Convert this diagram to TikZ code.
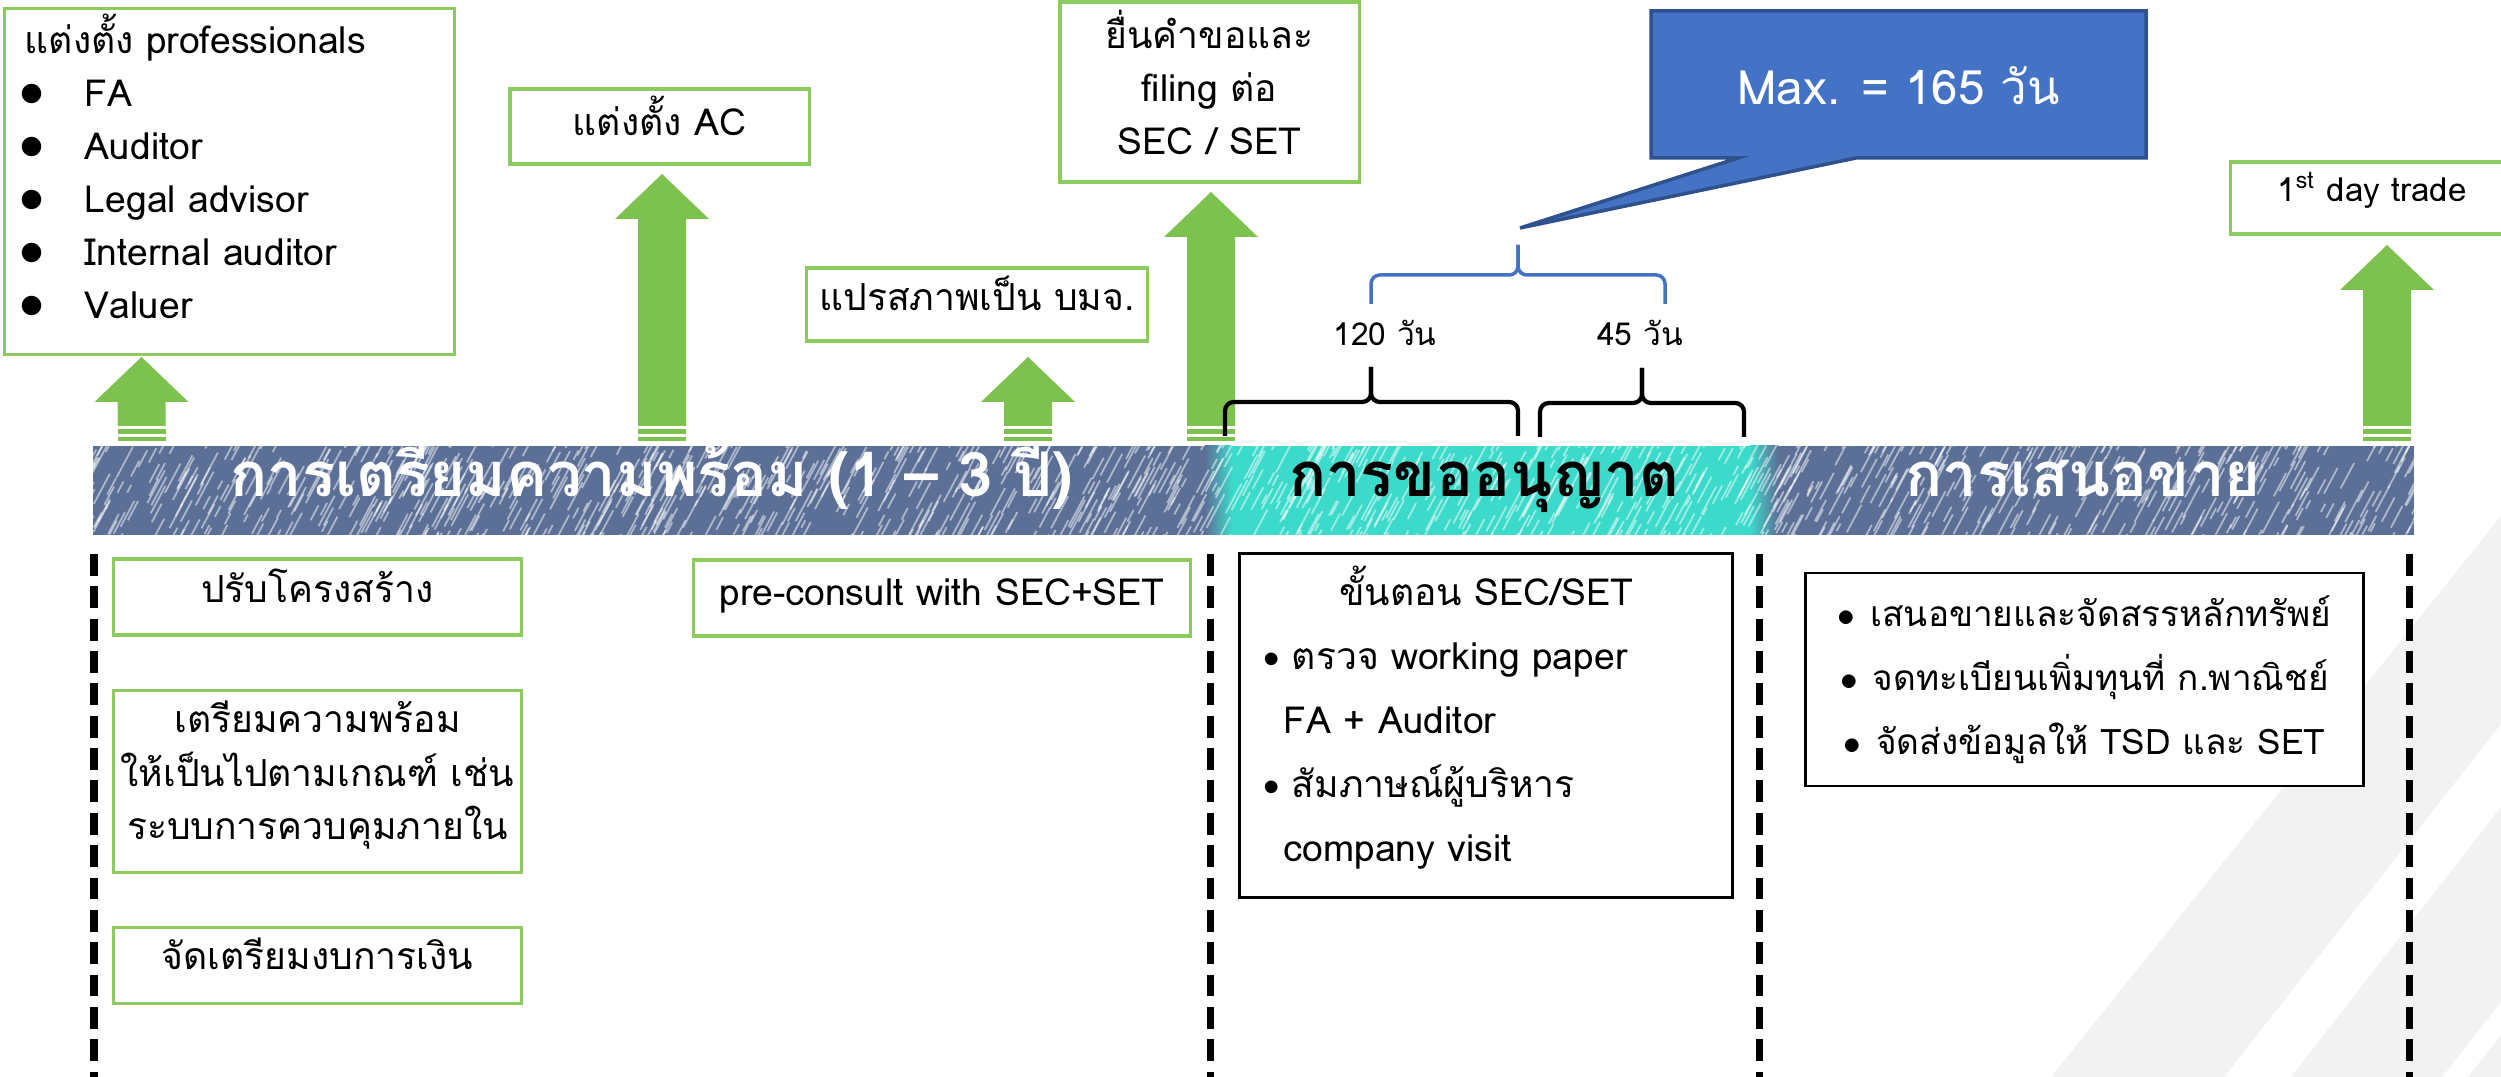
\documentclass[tikz,border=0pt]{standalone}
\usepackage{fontspec}
\setmainfont{Loma}[Script=Thai]
\usepackage{tikz}
\usetikzlibrary{shapes,arrows,positioning,calc}

\definecolor{arrowgreen}{HTML}{7DC24F}
\definecolor{boxgreen}{HTML}{8CCB5E}
\definecolor{calloutblue}{HTML}{4472C4}
\definecolor{calloutedge}{HTML}{2F528F}
\definecolor{barblue}{HTML}{5C7097}
\definecolor{barcyan}{HTML}{3CDACB}
\definecolor{stripegray}{HTML}{F2F2F2}

\newcommand{\basefont}{\fontsize{10.6}{15.1}\selectfont}
\newcommand{\listfont}{\fontsize{10.6}{18.2}\selectfont}
\newcommand{\offerfont}{\fontsize{10}{18.2}\selectfont}
\newcommand{\phasefont}{\fontsize{17.5}{20}\selectfont\bfseries}
\newcommand{\maxfont}{\fontsize{13.5}{16}\selectfont}
\newcommand{\dayfont}{\fontsize{9}{11}\selectfont}
\newcommand{\bul}{\makebox[0.6cm][l]{\hspace*{-0.05cm}\scalebox{1.3}{$\bullet$}}}
\newcommand{\dotmark}{\raisebox{0.1ex}{\scalebox{0.85}{$\bullet$}}}
\newcommand{\lift}[1]{\rule[-#1]{0pt}{0pt}}
\newcommand{\garrow}[2]{%
  \fill[arrowgreen] (#1,#2) -- (#1+47,#2+45) -- (#1+24,#2+45) -- (#1+24,426)
    -- (#1-24,426) -- (#1-24,#2+45) -- (#1-47,#2+45) -- cycle;
  \fill[arrowgreen] (#1-24,429) rectangle (#1+24,434);
  \fill[arrowgreen] (#1-24,437) rectangle (#1+24,441);}

\begin{document}
\begin{tikzpicture}[x=0.01cm, y=-0.01cm,
    gbox/.style={rectangle, draw=boxgreen, line width=0.9pt, fill=white, inner sep=0pt, font=\basefont, align=center},
    kbox/.style={rectangle, draw=black, line width=0.8pt, fill=white, inner sep=0pt, font=\listfont},
    phase/.style={anchor=base, font=\phasefont, text=white},
    days/.style={font=\dayfont},
    curly/.style={line width=1.2pt, rounded corners=2.5pt},
    divider/.style={line width=2pt, dash pattern=on 6.2pt off 3pt},
    streak/.style={white, opacity=0.5, line width=0.5pt}]

  \useasboundingbox (0,0) rectangle (2501,1077);
  \clip (0,0) rectangle (2501,1077);

  % background stripes
  \fill[stripegray] (2051,1077) -- (2501,516) -- (2501,724) -- (2224,1077) -- cycle;
  \fill[stripegray] (2291,1077) -- (2501,807) -- (2501,1002) -- (2442,1077) -- cycle;
  \fill[stripegray] (2468,1077) -- (2501,1035) -- (2501,1077) -- cycle;

  % timeline bar
  \node[fill=barblue, minimum width=23.19cm, minimum height=0.89cm, inner sep=0pt] (bar) at (1253.5,490.5) {};
  \shade[left color=barblue, right color=barcyan] (1205,446) rectangle (1232,535);
  \fill[barcyan] (1232,446) rectangle (1750,535);
  \shade[left color=barcyan, right color=barblue] (1750,446) rectangle (1778,535);
  \begin{scope}
    \clip (bar.south west) rectangle (bar.north east);
    \pgfmathsetseed{7}
    \foreach \i in {1,...,1500}{
      \pgfmathsetmacro{\sx}{60+2380*rnd}
      \pgfmathsetmacro{\sy}{446+120*rnd}
      \pgfmathsetmacro{\sl}{8+30*rnd}
      \draw[streak] (\sx,\sy) -- ++(-62:\sl);
    }
  \end{scope}
  \node[phase] (prep) at (652,497) {การเตรียมความพร้อม (1 – 3 ปี)};
  \node[phase, text=black] (permit) at (1484,497) {การขออนุญาต};
  \node[phase] (offering) at (2083,497) {การเสนอขาย};

  \foreach \x in {94,1210,1759,2409}
    \draw[divider] (\x,554) -- (\x,1077);

  % upper boxes
  \node[gbox, minimum width=4.49cm, minimum height=3.45cm, text width=4.09cm, align=left] (prof) at (229.5,181.5)
    {แต่งตั้ง professionals\\ \bul FA\\ \bul Auditor\\ \bul Legal advisor\\ \bul Internal auditor\\ \bul Valuer\lift{0.30cm}};
  \node[gbox, minimum width=2.99cm, minimum height=0.75cm] (ac) at (659.5,126.5) {แต่งตั้ง AC\lift{0.22cm}};
  \node[gbox, minimum width=3.40cm, minimum height=0.73cm] (convert) at (977,304.5) {แปรสภาพเป็น บมจ.\lift{0.22cm}};
  \node[gbox, minimum width=2.99cm, minimum height=1.80cm] (filing) at (1209.5,92) {ยื่นคำขอและ\\filing ต่อ\\SEC / SET\lift{0.2cm}};
  \node[gbox, minimum width=2.83cm, minimum height=0.72cm, font=\fontsize{9.4}{12}\selectfont] (firstday) at (2372,198)
    {1\textsuperscript{st} day trade\lift{0.22cm}};

  \garrow{141.5}{357}
  \garrow{662}{174}
  \garrow{1028}{357}
  \garrow{1211}{192}
  \garrow{2387}{245}

  % durations
  \draw[curly] (1225,436) -- (1225,402) -- (1371,402) -- (1371,367);
  \draw[curly] (1518,436) -- (1518,402) -- (1371,402) -- (1371,367);
  \draw[curly] (1540,437) -- (1540,403) -- (1642,403) -- (1642,368);
  \draw[curly] (1744,437) -- (1744,403) -- (1642,403) -- (1642,368);
  \node[days] (d120) at (1385,333) {120 วัน};
  \node[days] (d45) at (1640,333) {45 วัน};
  \draw[curly, calloutblue, line width=1pt] (1371,304) -- (1371,275) -- (1518,275) -- (1518,245);
  \draw[curly, calloutblue, line width=1pt] (1665,304) -- (1665,275) -- (1518,275) -- (1518,245);

  \filldraw[fill=calloutblue, draw=calloutedge, line width=1pt] (1651,11) -- (2146,11) -- (2146,158)
    -- (1856,158) -- (1520,228) -- (1738,158) -- (1651,158) -- cycle;
  \node[font=\maxfont, text=white] (maxbox) at (1898.5,86) {Max. = 165 วัน};

  % lower boxes
  \node[gbox, minimum width=4.07cm, minimum height=0.76cm] (restruct) at (317.5,597) {ปรับโครงสร้าง\lift{0.22cm}};
  \node[gbox, minimum width=4.07cm, minimum height=1.82cm, below=0.52cm of restruct] (ready)
    {เตรียมความพร้อม\\ให้เป็นไปตามเกณฑ์ เช่น\\ระบบการควบคุมภายใน\lift{0.22cm}};
  \node[gbox, minimum width=4.07cm, minimum height=0.76cm, below=0.52cm of ready] (finance) {จัดเตรียมงบการเงิน\lift{0.24cm}};
  \node[gbox, minimum width=4.96cm, minimum height=0.76cm] (precon) at (942,598) {pre-consult with SEC+SET\lift{0.12cm}};

  \node[kbox, minimum width=4.92cm, minimum height=3.43cm, text width=4.92cm, align=left] (secbox) at (1486,725.5)
    {\makebox[4.92cm]{ขั้นตอน SEC/SET}\\
     \hspace*{0.24cm}\makebox[0.28cm][l]{\dotmark}ตรวจ working paper\\
     \hspace*{0.44cm}FA + Auditor\\
     \hspace*{0.24cm}\makebox[0.28cm][l]{\dotmark}สัมภาษณ์ผู้บริหาร\\
     \hspace*{0.44cm}company visit\lift{0.24cm}};
  \node[kbox, minimum width=5.57cm, minimum height=2.13cm, align=center, font=\offerfont] (offer) at (2084.5,679.5)
    {$\bullet$\hspace{0.15cm}เสนอขายและจัดสรรหลักทรัพย์\\
     $\bullet$\hspace{0.15cm}จดทะเบียนเพิ่มทุนที่ ก.พาณิชย์\\
     $\bullet$\hspace{0.15cm}จัดส่งข้อมูลให้ TSD และ SET};
\end{tikzpicture}
\end{document}
